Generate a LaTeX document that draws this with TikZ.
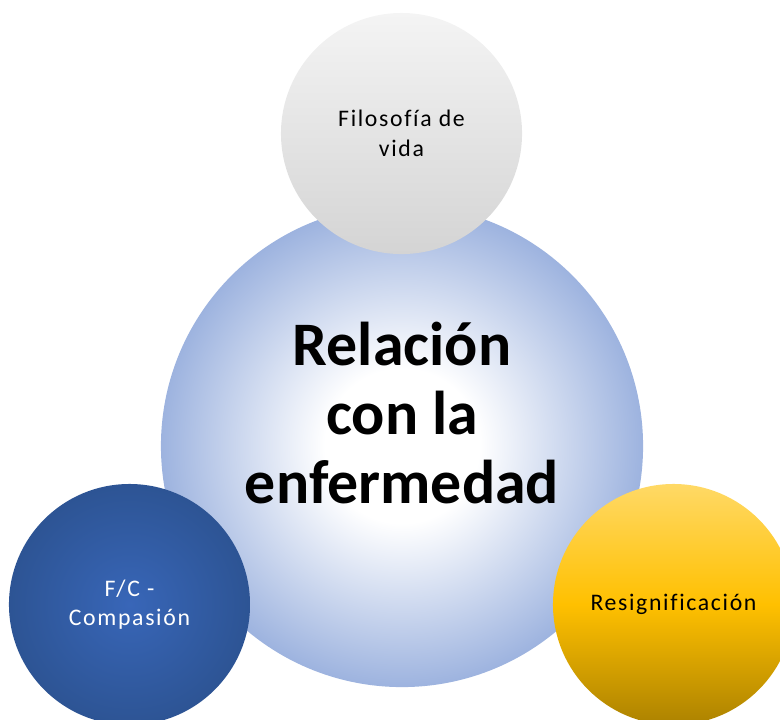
\documentclass[tikz,border=0pt]{standalone}
\usepackage{fontspec}
\setmainfont{Carlito}
\newfontfamily\spaced[LetterSpace=7, Ligatures=CommonOff]{Carlito}

\definecolor{bigedge}{HTML}{9DB3DF}
\definecolor{blueinner}{HTML}{3866B8}
\definecolor{blueouter}{HTML}{2D5494}
\definecolor{greytop}{HTML}{F4F4F4}
\definecolor{greybot}{HTML}{D4D4D4}
\definecolor{goldtop}{HTML}{FFD966}
\definecolor{goldmid}{HTML}{FFC000}
\definecolor{goldbot}{HTML}{AC8200}

\pgfdeclareradialshading{bigglow}{\pgfpoint{0bp}{0bp}}{%
  color(0bp)=(white); color(8bp)=(white); color(25bp)=(bigedge); color(50bp)=(bigedge)}
\pgfdeclareradialshading{bluedisc}{\pgfpoint{0bp}{0bp}}{%
  color(0bp)=(blueinner); color(25bp)=(blueouter); color(50bp)=(blueouter)}

\tikzset{
  bigcirc/.style={circle, minimum size=12.05cm, inner sep=0pt, shading=bigglow},
  smallcirc/.style={circle, minimum size=6.025cm, inner sep=0pt, align=center,
    font=\spaced\fontsize{16.9}{21}\selectfont},
  maintext/.style={align=center, font=\bfseries\fontsize{44}{49}\selectfont}
}

\begin{document}
\begin{tikzpicture}[x=0.025cm, y=-0.025cm]

\useasboundingbox (0,0) rectangle (780,719);
\clip (0,0) rectangle (780,719);

% centre
\node[bigcirc] (relacion) at (402,446) {};
\node[maintext] (relaciontxt) at (402,413) {Relación\\con la\\enfermedad};

% satellites
\node[smallcirc, top color=greytop, bottom color=greybot] (filosofia) at (401.5,133.5) {Filosofía de\\vida};
\node[smallcirc, shading=bluedisc, text=white] (compasion) at (129.5,604.5) {F/C -\\Compasión};
\node[smallcirc, top color=goldtop, bottom color=goldbot, middle color=goldmid] (resignif) at (673.5,604.5) {Resignificación};

\end{tikzpicture}
\end{document}
